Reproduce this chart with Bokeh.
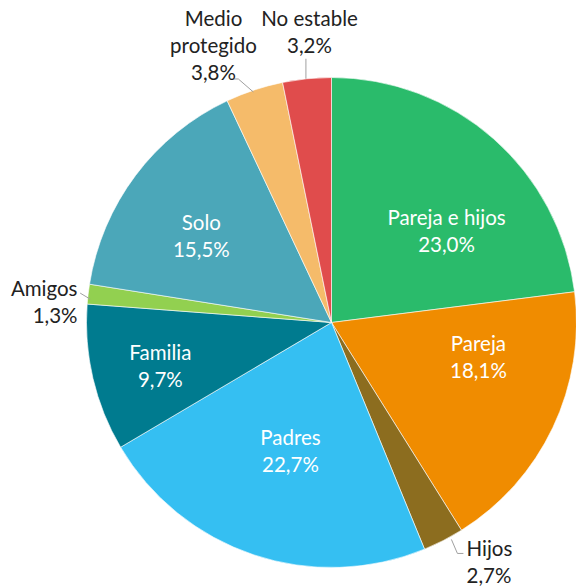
import math
from bokeh.plotting import figure
from bokeh.models import Range1d, ColumnDataSource
from bokeh.core.properties import value
from bokeh.embed import file_html
from bokeh.resources import INLINE

# ---- data ----
categories = ["Pareja e hijos", "Pareja", "Hijos", "Padres", "Familia",
              "Amigos", "Solo", "Medio\nprotegido", "No estable"]
shares = [23.0, 18.1, 2.7, 22.7, 9.7, 1.3, 15.5, 3.8, 3.2]
colors = ["#2abb6b", "#f08c00", "#8c6d1f", "#35bff2", "#007b8f",
          "#92d050", "#4ba7b9", "#f5bb6a", "#e04c4c"]

# ---- layout ----
W, H = 576, 587
CX, CY = 331, 265          # pie centre (data px)
R = 245
FS = 20.5
LH = 27
FONT = "Lato"

p = figure(width=W, height=H, x_range=Range1d(0, W), y_range=Range1d(0, H),
           output_backend="svg", toolbar_location=None, min_border=0)
p.axis.visible = False
p.grid.visible = False
p.outline_line_color = None
p.background_fill_color = "white"
p.border_fill_color = "white"

total = sum(shares)
starts, ends, mids = [], [], []
cum = 0.0
for s in shares:
    a0 = math.pi / 2 - 2 * math.pi * cum / total
    cum += s
    a1 = math.pi / 2 - 2 * math.pi * cum / total
    starts.append(a0)
    ends.append(a1)
    mids.append((a0 + a1) / 2)

src = ColumnDataSource(dict(start=starts, end=ends, color=colors))
p.wedge(x=CX, y=CY, radius=R, start_angle="start", end_angle="end",
        direction="clock", fill_color="color", line_color="white",
        line_width=0.6, source=src)

def pct(v):
    return f"{v:.1f}%".replace(".", ",")

# inside labels: index -> (angle offset deg, radius fraction)
inside = {0: (-10.1, 0.60), 1: (12.2, 0.616), 3: (0.7, 0.547),
          4: (0.9, 0.72), 6: (3.0, 0.64)}
# outside labels: leader elbow offsets from edge point, text anchor rel. centre, align
outside = {
    2: dict(pts=[(8, 1), (14, -13), (20, -13)], tx=135, ty=-225, align="left"),
    5: dict(pts=[(2, -5), (-8, 1)], tx=-254, ty=35, align="right"),
    7: dict(pts=[(-1, -2), (-16, 11), (-24, 11)], tx=-118, ty=305, align="center"),
    8: dict(pts=[(-1, 0), (-1, 20)], tx=-22, ty=305, align="center"),
}

tx, ty, tt, ta, tc = [], [], [], [], []
for i, (cat, s) in enumerate(zip(categories, shares)):
    lines = cat.split("\n") + [pct(s)]
    if i in inside:
        off, rf = inside[i]
        ang = mids[i] + math.radians(off)
        bx = CX + R * rf * math.cos(ang)
        by = CY + R * rf * math.sin(ang)
        color = "white"
        align = "center"
    else:
        o = outside[i]
        bx = CX + o["tx"]
        by = CY + o["ty"] - (len(lines) - 1) * LH / 2
        color = "#222222"
        align = o["align"]
        ex = CX + R * math.cos(mids[i])
        ey = CY + R * math.sin(mids[i])
        xs = [ex] + [ex + dx for dx, dy in o["pts"]]
        ys = [ey] + [ey + dy for dx, dy in o["pts"]]
        p.line(xs[1:], ys[1:], line_color="#a0a0a0", line_width=1)
    n = len(lines)
    for k, ln in enumerate(lines):
        tx.append(bx)
        ty.append(by + ((n - 1) / 2 - k) * LH)
        tt.append(ln)
        ta.append(align)
        tc.append(color)

tsrc = ColumnDataSource(dict(x=tx, y=ty, text=tt, align=ta, color=tc))
p.text(x="x", y="y", text="text", text_align="align", text_baseline="middle",
       text_color="color", text_font=value(FONT), text_font_size=f"{FS}px",
       source=tsrc)

open("out.html", "w").write(file_html(p, INLINE))
